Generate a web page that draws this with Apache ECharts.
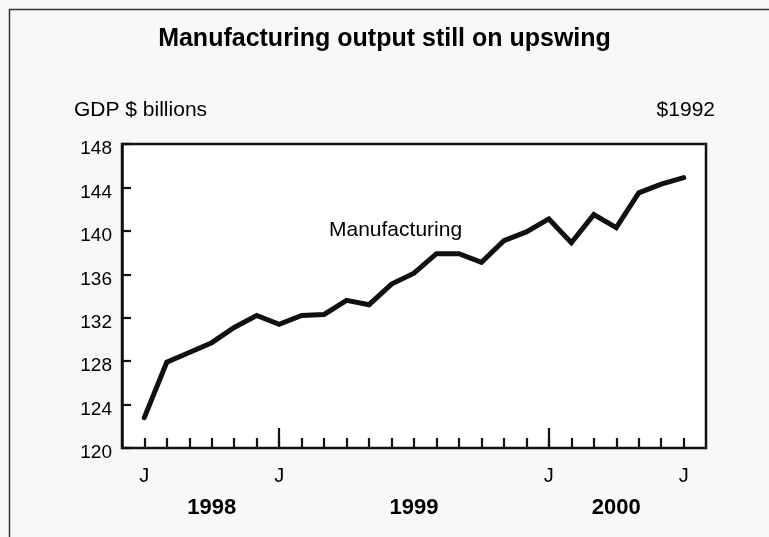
<!DOCTYPE html>
<html>
<head>
<meta charset="utf-8">
<script src="https://cdn.jsdelivr.net/npm/echarts@6/dist/echarts.min.js"></script>
<style>html,body{margin:0;padding:0;background:#f8f8f8;}#c{width:769px;height:537px;}</style>
</head>
<body>
<div id="c"></div>
<script>
// Monthly categories, July 1998 to July 2000
const months = ['1998-07','1998-08','1998-09','1998-10','1998-11','1998-12',
  '1999-01','1999-02','1999-03','1999-04','1999-05','1999-06','1999-07','1999-08','1999-09','1999-10','1999-11','1999-12',
  '2000-01','2000-02','2000-03','2000-04','2000-05','2000-06','2000-07'];
// Manufacturing GDP, $ billions (1992 dollars)
const manufacturing = [122.8,127.9,128.8,129.7,131.1,132.2,
  131.4,132.2,132.3,133.6,133.2,135.1,136.1,137.9,137.9,137.1,139.1,139.9,
  141.1,138.9,141.5,140.3,143.5,144.3,144.9];
// Tick labels
const monthTickLabels = {'1998-07':'J','1999-01':'J','2000-01':'J','2000-07':'J'};
const yearLabels = {'1998-10':'1998','1999-07':'1999','2000-04':'2000'};
const yearBoundaries = ['1999-01','2000-01'];
const yTicks = {min:120, max:148, step:4};

const font = 'Liberation Sans, Arial, sans-serif';
const chart = echarts.init(document.getElementById('c'));
chart.setOption({
  backgroundColor: '#f8f8f8',
  animation: false,
  title: {
    text: 'Manufacturing output still on upswing',
    left: 'center', top: 22,
    textStyle: {fontFamily: font, fontSize: 25, fontWeight: 'bold', color: '#000'}
  },
  graphic: [
    {type:'rect', left:7, top:7, shape:{width:800, height:600}, style:{fill:'none', stroke:'#333', lineWidth:1.5}, z:-1},
    {type:'text', left:74, top:100, style:{text:'GDP $ billions', font:'21px ' + font, fill:'#000'}},
    {type:'text', right:54, top:100, style:{text:'$1992', font:'21px ' + font, fill:'#000'}},
    {type:'text', left:329, top:220, style:{text:'Manufacturing', font:'21px ' + font, fill:'#000'}, z:10}
  ],
  grid: [
    {left:122, right:63, top:144, bottom:89, show:true, backgroundColor:'#fff', borderColor:'#111', borderWidth:2.5},
    {left:144.3, right:85.3, top:144, bottom:89}
  ],
  xAxis: [
    {type:'value', gridIndex:0, show:false, min:0, max:1},
    {type:'category', gridIndex:1, position:'bottom', data:months, boundaryGap:false,
      axisLine:{show:false},
      axisTick:{show:true, inside:true, length:10, interval:0, lineStyle:{color:'#111', width:2.2}},
      axisLabel:{interval:0, margin:18, fontFamily:font, fontSize:20, color:'#000',
        formatter: v => monthTickLabels[v] || ''}
    },
    {type:'category', gridIndex:1, position:'bottom', data:months, boundaryGap:false,
      axisLine:{show:false},
      axisTick:{show:true, inside:true, length:20, interval:(i, v) => yearBoundaries.includes(v), lineStyle:{color:'#111', width:2.2}},
      axisLabel:{interval:(i, v) => !!yearLabels[v], margin:49, fontFamily:font, fontSize:22, fontWeight:'bold', color:'#000',
        formatter: v => yearLabels[v] || ''}
    }
  ],
  yAxis: [
    {type:'value', gridIndex:0, min:yTicks.min, max:yTicks.max, interval:yTicks.step,
      axisLine:{show:true, lineStyle:{color:'#111', width:2.5}},
      axisTick:{show:true, inside:true, length:9, lineStyle:{color:'#111', width:2.2}},
      splitLine:{show:false},
      axisLabel:{margin:10, fontFamily:font, fontSize:19, color:'#000', verticalAlign:'top', lineHeight:10}
    },
    {type:'value', gridIndex:1, min:yTicks.min, max:yTicks.max, show:false}
  ],
  series: [{
    type:'line', name:'Manufacturing', xAxisIndex:1, yAxisIndex:1,
    data: manufacturing, symbol:'none',
    lineStyle:{color:'#111', width:5, cap:'round', join:'miter'}
  }]
});
</script>
</body>
</html>
